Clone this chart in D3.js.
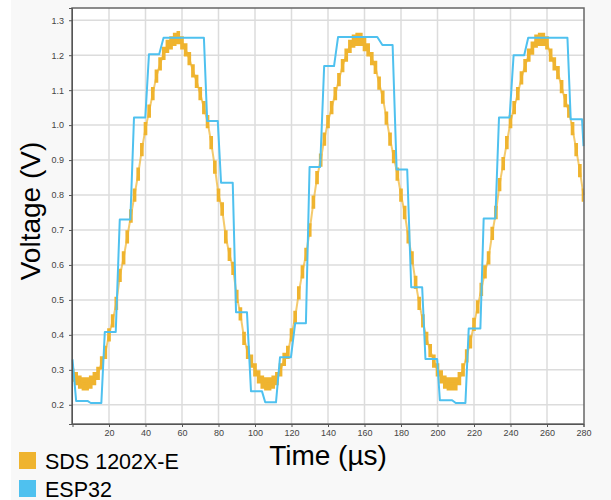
<!DOCTYPE html>
<html lang="en">
  <head>
    <meta charset="utf-8">
    <style>
      body { margin: 0; background: white; }
      text { font-family: "Liberation Sans", Arial, sans-serif; }
      .grid line { stroke: #dcdcdc; stroke-width: 1.5; }
      .axis text { fill: #444; font-size: 9px; }
      .axis path, .axis line { stroke: #555; }
    </style>
  </head>

  <body>
    <svg id="container" height="500" width="611"></svg>
  </body>
  <script src="https://d3js.org/d3.v7.min.js"></script>
  <script>
// scope trace, one value every 2 µs from t = 0
let sdsStep = 2
let sdsVolts = [
  0.285, 0.275, 0.265, 0.26, 0.26, 0.265, 0.275, 0.29, 0.32, 0.35,
  0.40, 0.44, 0.49, 0.57, 0.62, 0.68, 0.74, 0.80, 0.86, 0.93,
  0.99, 1.04, 1.09, 1.14, 1.175, 1.205, 1.225, 1.235, 1.245, 1.25,
  1.235, 1.215, 1.19, 1.155, 1.125, 1.09, 1.05, 1.01, 0.95, 0.88,
  0.80, 0.76, 0.68, 0.63, 0.59, 0.51, 0.46, 0.39, 0.35, 0.325,
  0.30, 0.28, 0.265, 0.26, 0.26, 0.265, 0.275, 0.30, 0.33, 0.35,
  0.40, 0.45, 0.52, 0.58, 0.63, 0.70, 0.78, 0.85, 0.90, 0.96,
  1.01, 1.05, 1.09, 1.13, 1.17, 1.20, 1.225, 1.24, 1.245, 1.245,
  1.23, 1.215, 1.19, 1.165, 1.12, 1.08, 1.02, 0.96, 0.91, 0.86,
  0.80, 0.75, 0.68, 0.62, 0.55, 0.49, 0.44, 0.39, 0.355, 0.325,
  0.30, 0.28, 0.265, 0.26, 0.26, 0.26, 0.275, 0.30, 0.34, 0.38,
  0.43, 0.48, 0.53, 0.58, 0.62, 0.69, 0.75, 0.83, 0.89, 0.95,
  1.01, 1.05, 1.09, 1.135, 1.17, 1.20, 1.22, 1.24, 1.245, 1.245,
  1.235, 1.20, 1.175, 1.15, 1.11, 1.07, 1.04, 0.99, 0.93, 0.87,
  0.80
]

// ESP32 ADC samples, corners of the stepped line
let espTime = [
  0, 2, 8.2, 10, 15.8, 17.7, 23.7, 25.9, 31.7, 33.7, 39.9, 41.9, 47.5, 49.9,
  72, 73.8, 79.6, 81.4, 87.8, 89.6, 95.6, 97.8, 103.8, 105.6, 111.5, 113.7,
  119.7, 122, 127.9, 129.9, 135.7, 137.9, 143.3, 145.5, 167, 169.8, 175.4,
  177.6, 183.4, 185.6, 191.6, 193.4, 199.8, 201.3, 208, 210, 215.3, 217.1,
  223.5, 225.3, 231.7, 233.7, 239.5, 241.7, 247.5, 249.7, 271.2, 273, 279.2, 280
]
let espVolts = [
  0.33, 0.211, 0.211, 0.205, 0.205, 0.408, 0.408, 0.73, 0.73, 1.022, 1.022, 1.203, 1.203, 1.25,
  1.25, 1.012, 1.012, 0.835, 0.835, 0.465, 0.465, 0.239, 0.239, 0.207, 0.207, 0.336,
  0.336, 0.433, 0.433, 0.88, 0.88, 1.169, 1.169, 1.252, 1.252, 1.229, 1.229,
  0.873, 0.873, 0.536, 0.536, 0.331, 0.331, 0.213, 0.213, 0.205, 0.205, 0.418,
  0.418, 0.733, 0.733, 1.022, 1.022, 1.2, 1.2, 1.25, 1.25, 1.017, 1.017, 0.94
]

let xTicks = [20, 40, 60, 80, 100, 120, 140, 160, 180, 200, 220, 240, 260, 280]
let yTicks = [0.2, 0.3, 0.4, 0.5, 0.6, 0.7, 0.8, 0.9, 1.0, 1.1, 1.2, 1.3]
let legendNames = ["SDS 1202X-E", "ESP32"]
let legendColors = ["#efb42f", "#4fc1ef"]

let svg = d3.select("#container")
let plotLeft = 72, plotRight = 584, plotTop = 8, plotBottom = 424

svg.append("rect")
    .attr("x", 11).attr("y", 0)
    .attr("width", 600).attr("height", 500)
    .attr("fill", "#f8f8f8")

svg.append("rect")
    .attr("x", plotLeft).attr("y", plotTop)
    .attr("width", plotRight - plotLeft).attr("height", plotBottom - plotTop)
    .attr("fill", "white")

let x = d3.scaleLinear().domain([0, 280]).range([plotLeft + 0.5, plotRight - 0.5])
let y = d3.scaleLinear().domain([0.145, 1.335]).range([plotBottom, plotTop])

// grid
let grid = svg.append("g").attr("class", "grid")
grid.selectAll(".gx")
    .data(xTicks.slice(0, -1))
    .enter()
    .append("line")
        .attr("x1", d => x(d)).attr("x2", d => x(d))
        .attr("y1", plotTop).attr("y2", plotBottom)
grid.selectAll(".gy")
    .data(yTicks)
    .enter()
    .append("line")
        .attr("x1", plotLeft).attr("x2", plotRight)
        .attr("y1", d => y(d)).attr("y2", d => y(d))

let plot = svg.append("g")

let sds = sdsVolts.map((v, i) => ({ t: i * sdsStep, v: v }))

// noisy band of the scope trace
plot.append("path")
    .datum(sds)
    .attr("fill", legendColors[0])
    .attr("d", d3.area()
        .x(d => x(d.t))
        .y0(d => y(d.v - 0.019))
        .y1(d => y(d.v + 0.019))
        .curve(d3.curveStep))

plot.append("path")
    .datum(sds)
    .attr("fill", "none")
    .attr("stroke", legendColors[0])
    .attr("stroke-opacity", 0.7)
    .attr("stroke-width", 2)
    .attr("d", d3.line().x(d => x(d.t)).y(d => y(d.v)))

let esp = espTime.map((t, i) => ({ t: t, v: espVolts[i] }))
plot.append("path")
    .datum(esp)
    .attr("fill", "none")
    .attr("stroke", legendColors[1])
    .attr("stroke-width", 2)
    .attr("stroke-linejoin", "round")
    .attr("d", d3.line().x(d => x(d.t)).y(d => y(d.v)))

// frame
svg.append("rect")
    .attr("x", plotLeft).attr("y", plotTop)
    .attr("width", plotRight - plotLeft).attr("height", plotBottom - plotTop)
    .attr("fill", "none")
    .attr("stroke", "#666")
    .attr("stroke-width", 1.5)

svg.append("g")
    .attr("class", "axis")
    .attr("transform", `translate(0,${plotBottom})`)
    .call(d3.axisBottom(x).tickValues(xTicks).tickSize(3).tickPadding(3).tickFormat(d3.format("d")))

svg.append("g")
    .attr("class", "axis")
    .attr("transform", `translate(${plotLeft},0)`)
    .call(d3.axisLeft(y).tickValues(yTicks).tickSize(3).tickPadding(5).tickFormat(d3.format(".1f")))

svg.append("text")
    .attr("x", 328).attr("y", 465)
    .attr("text-anchor", "middle")
    .attr("font-size", 28)
    .text("Time (µs)")

svg.append("text")
    .attr("transform", "translate(40,211) rotate(-90)")
    .attr("text-anchor", "middle")
    .attr("font-size", 28)
    .text("Voltage (V)")

let legend = svg.append("g")
legend.selectAll("rect")
    .data(legendNames)
    .enter()
    .append("rect")
        .attr("x", 19).attr("y", (d, i) => 452 + i * 28)
        .attr("width", 17).attr("height", 17)
        .attr("fill", (d, i) => legendColors[i])
legend.selectAll("text")
    .data(legendNames)
    .enter()
    .append("text")
        .attr("x", 45).attr("y", (d, i) => 468.5 + i * 28)
        .attr("font-size", 21.5)
        .text(d => d)
  </script>
</html>
